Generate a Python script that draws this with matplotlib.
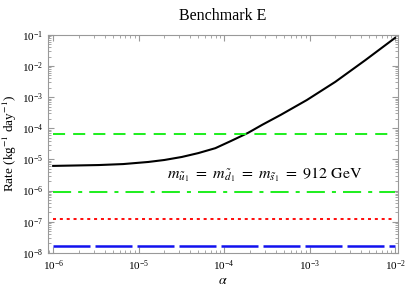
import numpy as np
import matplotlib.pyplot as plt

plt.rcParams['font.family'] = ['Liberation Serif', 'DejaVu Serif']
plt.rcParams['mathtext.fontset'] = 'stix'

# --- data ---
alpha = [1e-6, 3.4e-6, 6.6e-6, 1.3e-5, 2.0e-5, 3.2e-5, 5.0e-5, 7.9e-5,
         1.2e-4, 1.9e-4, 2.8e-4, 4.6e-4, 9.3e-4, 2.0e-3, 4.5e-3, 1e-2]
rate = [6.2e-6, 6.6e-6, 7.1e-6, 8.3e-6, 9.6e-6, 1.2e-5, 1.6e-5, 2.3e-5,
        3.9e-5, 7.1e-5, 1.3e-4, 2.7e-4, 8.1e-4, 3.1e-3, 1.55e-2, 8e-2]

alpha_range = [1e-6, 1e-2]
rate_green_dash = 6.6e-5
rate_green_dashdot = 9.0e-7
rate_red_dot = 1.25e-7
rate_blue_dash = 1.7e-8

label_text = r"$m_{\tilde{u}_1}\ =\ m_{\tilde{d}_1}\ =\ m_{\tilde{s}_1}\ =\ 912\ \mathrm{GeV}$"

fig = plt.figure(figsize=(4.07, 2.93), dpi=100)
ax = fig.add_axes([0.118, 0.137, 0.860, 0.744])

ax.plot(alpha, rate, color='black', lw=1.5)
# dash patterns are in units of linewidth
ax.plot(alpha_range, [rate_green_dash] * 2, color='#22ee22', lw=1.45,
        dashes=(6, 4))
ax.plot(alpha_range, [rate_green_dashdot] * 2, color='#22ee22', lw=1.45,
        dashes=(9, 3.5, 2, 3.5))
ax.plot(alpha_range, [rate_red_dot] * 2, color='#ff1111', lw=1.45,
        dashes=(1.5, 1.9))
ax.plot(alpha_range, [rate_blue_dash] * 2, color='#1111ee', lw=1.8,
        dashes=(14.8, 2.0))

ax.set_xscale('log')
ax.set_yscale('log')
ax.set_xlim(10**-6.06, 10**-1.965)
ax.set_ylim(1e-8, 1e-1)

ax.text(10**-4.67, 2.5e-6, label_text, fontsize=11.5, va='baseline')

ax.set_title("Benchmark E", fontsize=11.5, pad=11)
ax.set_xlabel(r"$\alpha$", fontsize=10, labelpad=1)
ax.set_ylabel(r"Rate (kg$^{-1}$ day$^{-1}$)", fontsize=9.5, labelpad=2)

ax.tick_params(which='both', direction='in', top=True, right=True,
               labelsize=8, color='#999999')
ax.tick_params(which='major', length=4)
ax.tick_params(which='minor', length=2)
ax.tick_params(axis='x', pad=4)
for sp in ax.spines.values():
    sp.set_color('#999999')
    sp.set_linewidth(0.8)

fig.savefig('out.png', dpi=100)
